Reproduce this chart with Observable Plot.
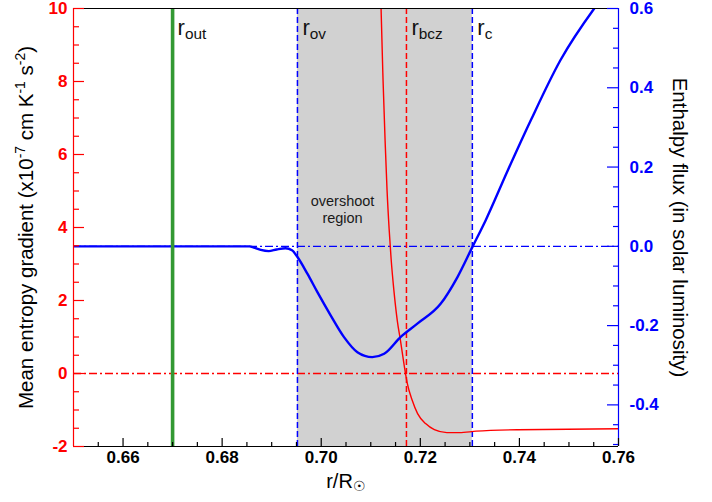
<!DOCTYPE html>
<html>
<head>
<meta charset="utf-8">
<script src="https://cdn.jsdelivr.net/npm/d3@7"></script>
<script src="https://cdn.jsdelivr.net/npm/@observablehq/plot@0.6"></script>
<style>
  html, body { margin: 0; padding: 0; background: #fff; }
  #chart { width: 712px; height: 502px; }
</style>
</head>
<body>
<div id="chart"></div>
<script>
// ---------- data ----------
// Enthalpy flux (solar luminosity) vs r/R_sun  -> blue curve, right axis
const fluxR   = [0.650, 0.660, 0.670, 0.680, 0.6855, 0.6864, 0.6878, 0.6894, 0.6910, 0.6928, 0.6941, 0.6952, 0.6972, 0.6992, 0.7019, 0.7046, 0.7073, 0.7103, 0.7127, 0.7160, 0.7194, 0.7241, 0.7275, 0.7305, 0.7332, 0.7376, 0.7423, 0.7483, 0.7551, 0.7575];
const fluxVal = [0.000, 0.000, 0.000, 0.000, 0.000, -0.003, -0.009, -0.012, -0.008, -0.005, -0.010, -0.027, -0.069, -0.115, -0.174, -0.229, -0.267, -0.2795, -0.271, -0.229, -0.195, -0.145, -0.0775, -0.002, 0.066, 0.190, 0.318, 0.470, 0.600, 0.640];

// Mean entropy gradient (x1e-7 cm K^-1 s^-2) -> red curve, left axis
const gradR   = [0.71188, 0.71208, 0.71248, 0.71289, 0.71329, 0.71370, 0.71410, 0.71467, 0.71535, 0.71602, 0.71669, 0.71737, 0.71838, 0.71945, 0.72113, 0.72283, 0.72535, 0.72788, 0.73127, 0.73970, 0.7600];
const gradVal = [11.3, 9.99, 8.03, 6.38, 5.01, 3.97, 3.15, 2.27, 1.45, 0.88, 0.27, -0.27, -0.74, -1.10, -1.38, -1.54, -1.62, -1.62, -1.58, -1.54, -1.515];

// Characteristic radii
const rOut = 0.670, rOv = 0.6952, rBcz = 0.7172, rC = 0.7305;
const rLabels = [
  {x: rOut, sub: "out"},
  {x: rOv,  sub: "ov"},
  {x: rBcz, sub: "bcz"},
  {x: rC,   sub: "c"}
];

// Axes
const xDomain = [0.65, 0.76];
const yDomain = [-2, 10];
const fluxDomain = [-0.505, 0.6];
const xMajor = [0.66, 0.68, 0.70, 0.72, 0.74, 0.76];
const xMinor = [0.655, 0.665, 0.67, 0.675, 0.685, 0.69, 0.695, 0.705, 0.71, 0.715, 0.725, 0.73, 0.735, 0.745, 0.75, 0.755];
const yMajor = [-2, 0, 2, 4, 6, 8, 10];
const yMinor = d3.range(-1.5, 10, 0.5).filter(v => Math.abs(v % 2) > 1e-9);
const fMajor = [-0.4, -0.2, 0.0, 0.2, 0.4, 0.6];
const fMinor = d3.range(-0.5, 0.6, 0.05).filter(v => Math.abs(Math.round(v * 100) % 20) > 1e-6);

const leftTitle = "Mean entropy gradient (x10^{-7} cm K^{-1} s^{-2})";
const rightTitle = "Enthalpy flux (in solar luminosity)";
const xTitle = "r/R_{☉}";

// ---------- helpers ----------
const toY = f => yDomain[0] + (f - fluxDomain[0]) * (yDomain[1] - yDomain[0]) / (fluxDomain[1] - fluxDomain[0]);
const fluxData = fluxR.map((r, i) => ({r, f: fluxVal[i]}));
const gradData = gradR.map((r, i) => ({r, g: gradVal[i]}));

const W = 712, H = 502, mL = 73, mR = 94, mT = 8, mB = 56;
const pw = W - mL - mR, ph = H - mT - mB;
const RED = "#ff0000", BLUE = "#0000ff", GREEN = "#339933";
const font = "'Liberation Sans', Arial, Helvetica, sans-serif";

const chart = Plot.plot({
  width: W, height: H,
  marginLeft: mL, marginRight: mR, marginTop: mT, marginBottom: mB,
  x: {domain: xDomain, axis: null},
  y: {domain: yDomain, axis: null},
  style: {fontFamily: font, background: "#fff", overflow: "visible"},
  marks: [
    // overshoot region
    Plot.rect([{x1: rOv, x2: rC}], {x1: "x1", x2: "x2", fill: "#d1d1d1"}),
    // zero lines
    Plot.ruleY([toY(0)], {stroke: BLUE, strokeWidth: 1.2, strokeDasharray: "8,3,2,3"}),
    Plot.ruleY([0], {stroke: RED, strokeWidth: 1.3, strokeDasharray: "8,3,2,3"}),
    // radii
    Plot.ruleX([rOv, rC], {stroke: BLUE, strokeWidth: 1.5, strokeDasharray: "6,3"}),
    Plot.ruleX([rBcz], {stroke: RED, strokeWidth: 1.5, strokeDasharray: "6,3"}),
    // curves
    Plot.line(gradData, {x: "r", y: "g", stroke: RED, strokeWidth: 1.4, curve: "monotone-x", clip: true}),
    Plot.line(fluxData, {x: "r", y: d => toY(d.f), stroke: BLUE, strokeWidth: 2.4, curve: "monotone-x", clip: true}),
    Plot.ruleX([rOut], {stroke: GREEN, strokeWidth: 3.6}),
    // overshoot label
    Plot.text([{x: 0.7043, y: 4.5, t: "overshoot\nregion"}], {x: "x", y: "y", text: "t", fontSize: 14.5, lineHeight: 1.17, fill: "#1a1a1a"}),
    // radius labels
    Plot.text(rLabels, {x: "x", frameAnchor: "top", text: d => `r_{${d.sub}}`, textAnchor: "start", dx: 5, dy: 11, fontSize: 22, fill: "#111"}),
    // frame
    Plot.ruleY([yDomain[1]], {stroke: "#000", strokeWidth: 1.2}),
    Plot.ruleY([yDomain[0]], {stroke: "#000", strokeWidth: 1.2}),
    Plot.ruleX([xDomain[0]], {stroke: RED, strokeWidth: 1.2}),
    Plot.ruleX([xDomain[1]], {stroke: BLUE, strokeWidth: 1.2}),
    // ticks bottom
    Plot.tickX(xMajor, {x: d => d, stroke: "#000", strokeWidth: 1.2, insetTop: ph - 8}),
    Plot.tickX(xMinor, {x: d => d, stroke: "#000", strokeWidth: 1.2, insetTop: ph - 4}),
    // ticks left
    Plot.tickY(yMajor, {y: d => d, stroke: RED, strokeWidth: 1.2, insetRight: pw - 11}),
    Plot.tickY(yMinor, {y: d => d, stroke: RED, strokeWidth: 1.2, insetRight: pw - 6}),
    // ticks right
    Plot.tickY(fMajor, {y: d => toY(d), stroke: BLUE, strokeWidth: 1.2, insetLeft: pw - 11}),
    Plot.tickY(fMinor, {y: d => toY(d), stroke: BLUE, strokeWidth: 1.2, insetLeft: pw - 5}),
    // tick labels
    Plot.text(xMajor, {x: d => d, frameAnchor: "bottom", dy: 16.5, text: d => d.toFixed(2), fontSize: 17, fontWeight: "bold", fill: "#000"}),
    Plot.text(yMajor, {y: d => d, frameAnchor: "left", dx: -6, textAnchor: "end", text: d => String(d), fontSize: 17, fontWeight: "bold", fill: RED}),
    Plot.text(fMajor, {y: d => toY(d), frameAnchor: "right", dx: 11, textAnchor: "start", text: d => d.toFixed(1), fontSize: 17, fontWeight: "bold", fill: BLUE}),
    // axis titles
    Plot.text([leftTitle], {frameAnchor: "left", dx: -47, rotate: -90, textAnchor: "middle", text: d => d, fontSize: 20.5, fill: "#000"}),
    Plot.text([rightTitle], {frameAnchor: "right", dx: 61, rotate: 90, textAnchor: "middle", text: d => d, fontSize: 20.5, fill: "#000"}),
    Plot.text([xTitle], {frameAnchor: "bottom", dy: 41, textAnchor: "middle", text: d => d, fontSize: 20, fill: "#000"})
  ]
});

// rich text: _{sub} and ^{sup}
function richify(root) {
  root.querySelectorAll("text").forEach(t => {
    const s = t.textContent;
    if (!/[_^]\{/.test(s)) return;
    const fsEl = t.closest("[font-size]");
    const fs = fsEl ? parseFloat(fsEl.getAttribute("font-size")) : 16;
    const parts = s.split(/([_^]\{[^}]*\})/).filter(p => p);
    t.textContent = "";
    let shift = 0;
    for (const p of parts) {
      const ts = document.createElementNS("http://www.w3.org/2000/svg", "tspan");
      let target = 0, txt = p, size = null;
      if (p.startsWith("_{")) { target = 0.18 * fs; txt = p.slice(2, -1); size = 0.7 * fs; }
      else if (p.startsWith("^{")) { target = -0.4 * fs; txt = p.slice(2, -1); size = 0.68 * fs; }
      ts.setAttribute("dy", target - shift);
      shift = target;
      if (size) ts.setAttribute("font-size", size);
      ts.textContent = txt;
      t.appendChild(ts);
    }
  });
}
richify(chart);
document.getElementById("chart").appendChild(chart);
</script>
</body>
</html>
